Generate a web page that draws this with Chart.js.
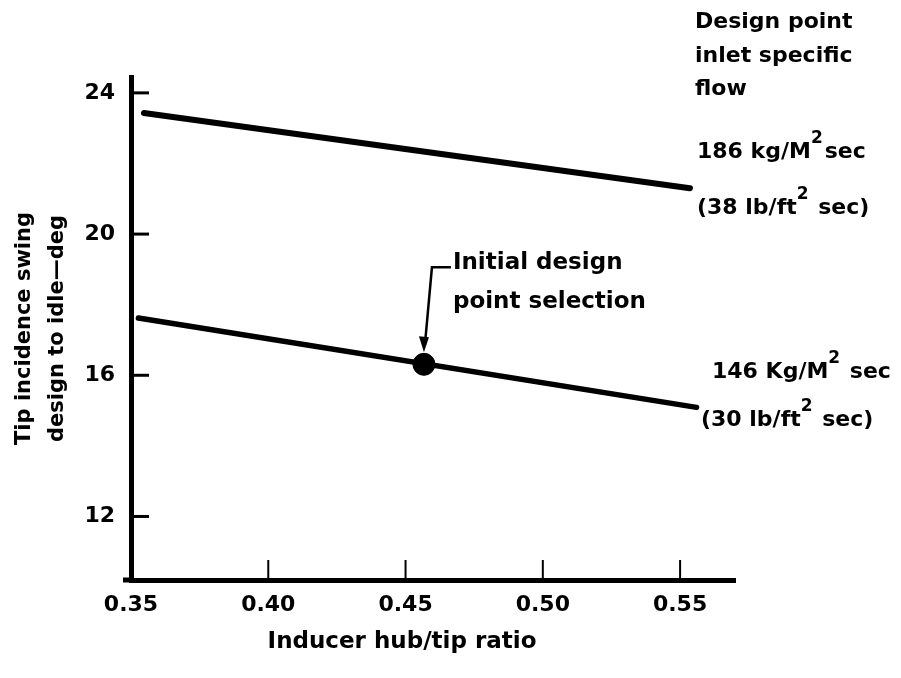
<!DOCTYPE html>
<html>
<head>
<meta charset="utf-8">
<script src="https://cdn.jsdelivr.net/npm/chart.js@4.4.0/dist/chart.umd.min.js"></script>
<style>
    html, body { margin: 0; padding: 0; background: #fff; }
    #wrap { width: 901px; height: 678px; position: relative; }
</style>
</head>
<body>
<div id="wrap"><canvas id="swingChart"></canvas></div>
<script>
// inducer hub/tip ratio vs tip incidence swing (deg), two inlet flows
const ratio186 = [0.3547, 0.5536];
const swing186 = [23.43, 21.30];
const ratio146 = [0.3527, 0.5560];
const swing146 = [17.62, 15.09];
const pickRatio = [0.4567];
const pickSwing = [16.31];

const xTickValues = [0.35, 0.40, 0.45, 0.50, 0.55];
const yTickValues = [12, 16, 20, 24];

const FONT = "'DejaVu Sans', sans-serif";

const toPoints = (xs, ys) => xs.map((x, i) => ({ x: x, y: ys[i] }));

// draws a run of text pieces, some of them raised as superscripts
const drawRich = (ctx, parts, x, y) => {
    let cx = x;
    parts.forEach(([txt, sup]) => {
        ctx.font = sup ? `bold 17px ${FONT}` : `bold 22px ${FONT}`;
        ctx.fillText(txt, cx, sup ? y - 13 : y);
        cx += ctx.measureText(txt).width + (sup ? 2 : 0);
    });
};

const figureMarks = {
    id: "figureMarks",
    afterDraw(chart) {
        const ctx = chart.ctx;
        const xs = chart.scales.x;
        const ys = chart.scales.y;
        const area = chart.chartArea;
        ctx.save();
        ctx.strokeStyle = "#000";
        ctx.fillStyle = "#000";

        // tick marks point inward
        ctx.lineWidth = 3;
        yTickValues.forEach((v) => {
            const py = ys.getPixelForValue(v);
            ctx.beginPath();
            ctx.moveTo(area.left, py);
            ctx.lineTo(area.left + 18, py);
            ctx.stroke();
        });
        ctx.lineWidth = 2;
        xTickValues.slice(1).forEach((v) => {
            const px = xs.getPixelForValue(v);
            ctx.beginPath();
            ctx.moveTo(px, area.bottom);
            ctx.lineTo(px, area.bottom - 20);
            ctx.stroke();
        });
        // x axis runs a little past the y axis on the left
        ctx.lineWidth = 5;
        ctx.beginPath();
        ctx.moveTo(area.left - 8, area.bottom);
        ctx.lineTo(area.left, area.bottom);
        ctx.stroke();

        // leader arrow to the chosen design point
        const dx = xs.getPixelForValue(pickRatio[0]);
        const dy = ys.getPixelForValue(pickSwing[0]);
        const tipY = dy - 12;
        ctx.lineWidth = 2.5;
        ctx.beginPath();
        ctx.moveTo(dx + 27, dy - 97);
        ctx.lineTo(dx + 8, dy - 97);
        ctx.lineTo(dx + 1, tipY - 8);
        ctx.stroke();
        ctx.beginPath();
        ctx.moveTo(dx, tipY);
        ctx.lineTo(dx - 5, tipY - 16);
        ctx.lineTo(dx + 5, tipY - 15);
        ctx.closePath();
        ctx.fill();

        ctx.textAlign = "left";
        ctx.textBaseline = "middle";
        ctx.font = `bold 23px ${FONT}`;
        ctx.fillText("Initial design", dx + 29, dy - 101);
        ctx.fillText("point selection", dx + 29, dy - 62);

        // flow legend on the right
        ctx.font = `bold 22px ${FONT}`;
        ctx.fillText("Design point", 695, 22);
        ctx.fillText("inlet specific", 695, 56);
        ctx.fillText("flow", 695, 89);
        drawRich(ctx, [["186 kg/M", 0], ["2", 1], ["sec", 0]], 697, 152);
        drawRich(ctx, [["(38 lb/ft", 0], ["2", 1], [" sec)", 0]], 697, 208);
        drawRich(ctx, [["146 Kg/M", 0], ["2", 1], [" sec", 0]], 712, 372);
        drawRich(ctx, [["(30 lb/ft", 0], ["2", 1], [" sec)", 0]], 701, 420);

        // x axis title
        ctx.textAlign = "center";
        ctx.font = `bold 23px ${FONT}`;
        ctx.fillText("Inducer hub/tip ratio", 402, 642);
        ctx.restore();
    },
};

const ctx = document.getElementById("swingChart").getContext("2d");
const swingChart = new Chart(ctx, {
    type: "scatter",
    data: {
        datasets: [
            {
                label: "186 kg/M2sec",
                data: toPoints(ratio186, swing186),
                showLine: true,
                borderColor: "#000",
                backgroundColor: "#000",
                borderWidth: 6,
                borderCapStyle: "round",
                pointRadius: 0,
            },
            {
                label: "146 Kg/M2 sec",
                data: toPoints(ratio146, swing146),
                showLine: true,
                borderColor: "#000",
                backgroundColor: "#000",
                borderWidth: 5.5,
                borderCapStyle: "round",
                pointRadius: 0,
            },
            {
                label: "Initial design point selection",
                data: toPoints(pickRatio, pickSwing),
                showLine: false,
                borderColor: "#000",
                backgroundColor: "#000",
                pointRadius: 11,
            },
        ],
    },
    options: {
        responsive: true,
        maintainAspectRatio: false,
        animation: false,
        clip: false,
        layout: { padding: { top: 77, right: 166, left: 0, bottom: 0 } },
        plugins: {
            legend: { display: false },
            tooltip: { enabled: false },
        },
        scales: {
            x: {
                type: "linear",
                min: 0.35,
                max: 0.57,
                afterBuildTicks: (s) => {
                    s.ticks = xTickValues.map((v) => ({ value: v }));
                },
                afterFit: (s) => {
                    s.height = 98;
                },
                grid: { display: false },
                border: { color: "#000", width: 5 },
                ticks: {
                    autoSkip: false,
                    maxRotation: 0,
                    padding: 4,
                    color: "#000",
                    font: { family: FONT, size: 22, weight: "bold" },
                    callback: (v) => v.toFixed(2),
                },
            },
            y: {
                type: "linear",
                min: 10.2,
                max: 24.45,
                afterBuildTicks: (s) => {
                    s.ticks = yTickValues.map((v) => ({ value: v }));
                },
                afterFit: (s) => {
                    s.width = 131;
                },
                grid: { display: false },
                border: { color: "#000", width: 5 },
                ticks: {
                    padding: 8,
                    color: "#000",
                    font: { family: FONT, size: 22, weight: "bold" },
                },
                title: {
                    display: true,
                    text: ["Tip incidence swing", "design to idle\u2014deg"],
                    color: "#000",
                    font: { family: FONT, size: 21, weight: "bold", lineHeight: 1.57 },
                    padding: { top: 8, bottom: 0 },
                },
            },
        },
    },
    plugins: [figureMarks],
});
</script>
</body>
</html>
